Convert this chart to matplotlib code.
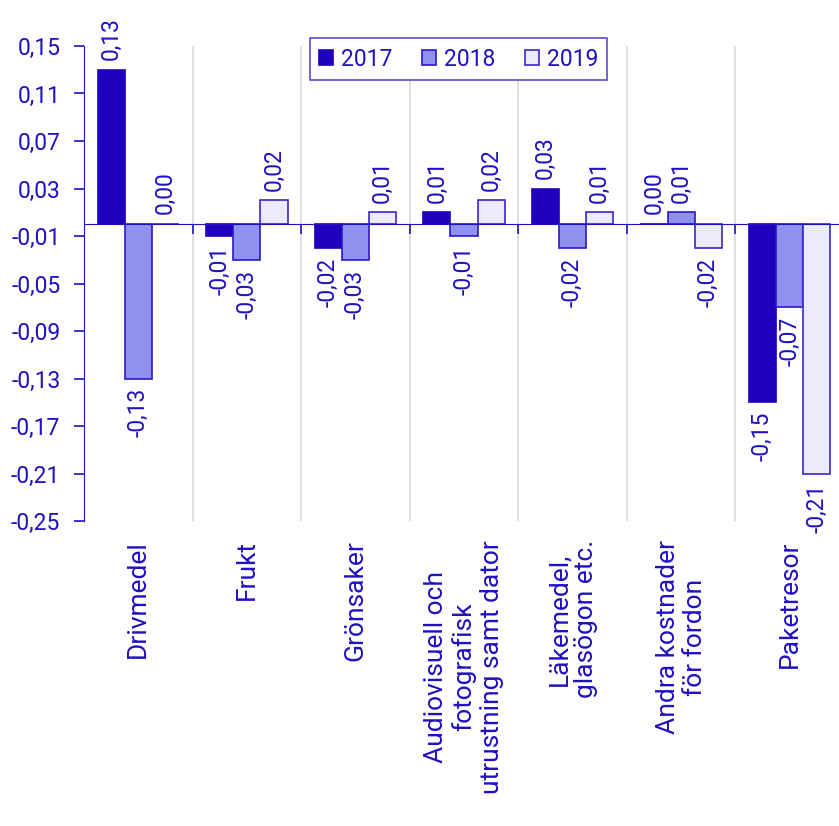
import numpy as np
import matplotlib
matplotlib.use('Agg')
import matplotlib.pyplot as plt

'''Data'''

categories = ['Drivmedel', 'Frukt', 'Grönsaker',
              'Audiovisuell och\nfotografisk\nutrustning samt dator',
              'Läkemedel,\nglasögon etc.', 'Andra kostnader\nför fordon',
              'Paketresor']
years = ['2017', '2018', '2019']
v2017 = [0.13, -0.01, -0.02, 0.01, 0.03, 0.00, -0.15]
v2018 = [-0.13, -0.03, -0.03, -0.01, -0.02, 0.01, -0.07]
v2019 = [0.00, 0.02, 0.01, 0.02, 0.01, -0.02, -0.21]
yticks = np.round(np.arange(-0.25, 0.151, 0.04), 2)

#Style
blue = '#2010c0'
fills = ['#1e00be', '#8e92ee', '#ebebfb']
edges = ['#1e00be', '#2d18c4', '#3a26c8']
fs = 16.5
plt.rcParams['font.family'] = ['Roboto', 'DejaVu Sans']

fig = plt.figure(figsize=(8.39, 8.26), dpi=100)
ax = fig.add_axes([84/839, 305/826, 760/839, 475/826])

x = np.arange(len(categories))
w = 0.25
for k, (vals, yr) in enumerate(zip([v2017, v2018, v2019], years)):
    pos = x + (k - 1)*w
    ax.bar(pos, vals, width=w, color=fills[k], edgecolor=edges[k],
           linewidth=1.2, label=yr, zorder=3)
    for p, v in zip(pos, vals):
        txt = f'{v:.2f}'.replace('.', ',')
        if v >= 0:
            ax.annotate(txt, (p, v), xytext=(0, 7), textcoords='offset points',
                        rotation=90, ha='center', va='bottom', color=blue,
                        fontsize=fs, annotation_clip=False)
        else:
            ax.annotate(txt, (p, v), xytext=(0, -7), textcoords='offset points',
                        rotation=90, ha='center', va='top', color=blue,
                        fontsize=fs, annotation_clip=False)

#Category separators
for b in np.arange(0.5, len(categories) - 0.5):
    ax.axvline(b, color='#d9d9d9', lw=1.2, zorder=1)

ax.set_xlim(-0.5, len(categories) - 0.5)
ax.set_ylim(-0.25, 0.15)

ax.spines['top'].set_visible(False)
ax.spines['right'].set_visible(False)
ax.spines['bottom'].set_position(('data', 0))
ax.spines['bottom'].set_color(blue)
ax.spines['left'].set_color(blue)
ax.spines['bottom'].set_zorder(4)

ax.set_xticks(np.arange(0.5, len(categories) - 0.5))
ax.set_xticklabels([])
ax.tick_params(axis='x', direction='out', length=7, width=1.2, color=blue)

ax.set_yticks(yticks)
ax.set_yticklabels([f'{t:.2f}'.replace('.', ',') for t in yticks])
ax.tick_params(axis='y', direction='out', length=7, width=1.2, color=blue,
               labelcolor=blue, labelsize=fs, pad=10)

for i, c in enumerate(categories):
    ax.text(i, -0.04, c, transform=ax.get_xaxis_transform(), rotation=90,
            ha='center', va='top', multialignment='center', color=blue,
            fontsize=19, linespacing=1.17)

leg = ax.legend(loc='upper center', bbox_to_anchor=(0.493, 1.04), ncol=3,
                fontsize=16.5, frameon=True, fancybox=False, framealpha=1,
                handlelength=0.6, handleheight=0.6, handletextpad=0.35,
                columnspacing=1.3, borderpad=0.4)
leg.get_frame().set_edgecolor('#5b4bd6')
leg.get_frame().set_linewidth(1.2)
for t in leg.get_texts():
    t.set_color(blue)

plt.savefig('out.png', dpi=100)
